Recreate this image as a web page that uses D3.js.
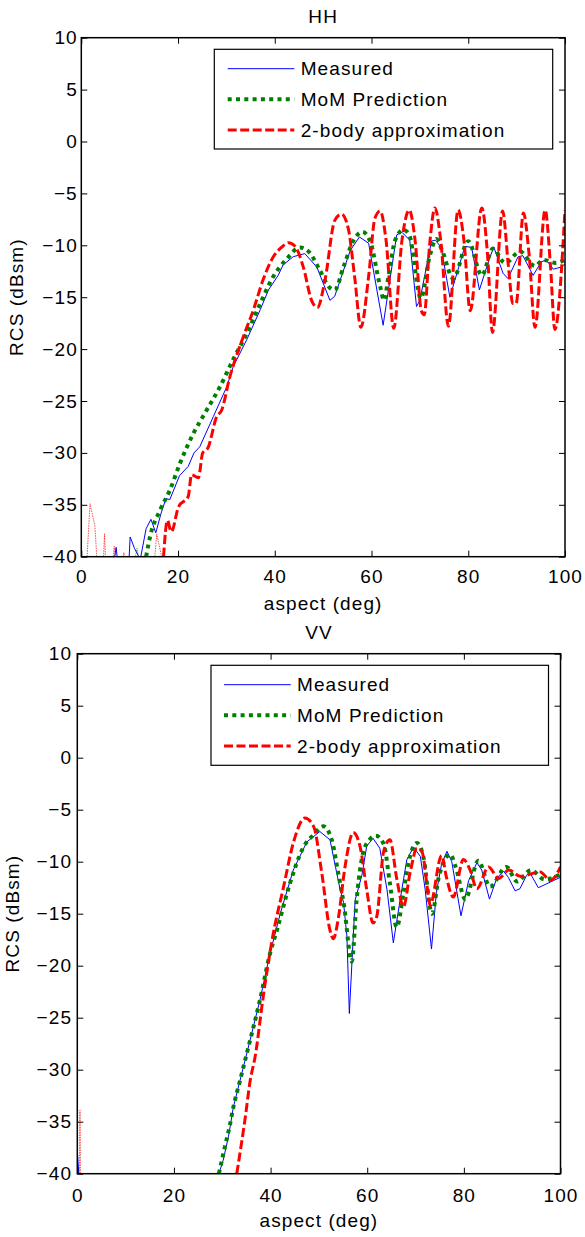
<!DOCTYPE html>
<html><head><meta charset="utf-8">
<script src="https://cdn.jsdelivr.net/npm/d3@7"></script>
<style>
body{margin:0;background:#fff}
svg{display:block}
text{font-family:"Liberation Sans",Arial,Helvetica,sans-serif;font-size:19px;letter-spacing:1.1px;fill:#000}
</style></head><body>
<svg id="c" width="585" height="1237"></svg>
<script>
// ---------------- data ----------------
const xTicks = [0, 20, 40, 60, 80, 100];
const yTicks = [10, 5, 0, -5, -10, -15, -20, -25, -30, -35, -40];
const seriesNames = ["Measured", "MoM Prediction", "2-body approximation"];
const panelTitles = ["HH", "VV"];
const xLabel = "aspect (deg)";
const yLabel = "RCS (dBsm)";

// HH
const hhMeasured = [[12.3,-40],[13.4,-37.3],[14.4,-36.4],[15.4,-37.7],[16.5,-35.8],[17.5,-34.4],[18.3,-34.5],[20.3,-32.2],[22.1,-31.3],[23.3,-30],[24.5,-29.4],[27.3,-26.5],[30.1,-23.6],[31.4,-21.7],[34.2,-19.1],[37,-16.2],[38.7,-14.3],[40.7,-12.9],[41.7,-11.9],[43.8,-11.1],[46.2,-10.8],[48.7,-12.1],[51.4,-15.3],[52.4,-14.9],[55.6,-10.5],[57.5,-9.2],[59.4,-9.8],[62.4,-17.7],[65.2,-9.0],[66.3,-8.75],[67.9,-9.5],[69.3,-15.9],[70,-15.3],[72.4,-9.6],[73.2,-9.5],[74.4,-10.2],[76.2,-15.0],[79.3,-10.1],[80.7,-10.2],[82.3,-14.3],[84.5,-11.1],[85.3,-10.2],[87.2,-12.7],[88.2,-13.2],[90.3,-11.1],[91.3,-11.0],[93.4,-12.9],[95.1,-11.6],[96.1,-11.4],[97.6,-12.3],[99.2,-12.1],[100,-11.8]];
const hhMoM = [[13.4,-40],[14.2,-38.1],[16.3,-35.5],[18.3,-33.6],[20.4,-31.0],[23.2,-28.1],[25.9,-25.9],[28.7,-23.6],[31.4,-21.0],[34.2,-18.5],[37,-15.6],[39.7,-13.0],[42.5,-11.3],[45.2,-10.2],[47.2,-10.7],[49.3,-12.4],[51.4,-14.1],[52.4,-14.3],[54.2,-12.1],[56.2,-9.6],[58.1,-8.7],[59.7,-9.6],[61.8,-14.0],[62.6,-15.3],[63.5,-13],[64.9,-9.5],[66.6,-8.5],[67.8,-9.0],[70.2,-15.1],[72,-11.1],[73.4,-9.4],[74.6,-10.5],[76.9,-13.2],[80,-9.6],[82.8,-12.9],[85.1,-10.3],[87.6,-11.7],[90.7,-10.6],[93.8,-12.0],[95.5,-11.4],[98.1,-11.7],[100,-11.4]];
const hhTwoBody = [[17,-40],[17.8,-36.5],[18.6,-37.6],[20.1,-35.2],[22.1,-34.2],[22.8,-32.1],[24.2,-32.4],[25.1,-30.0],[26.2,-29.5],[28,-26.5],[29,-25.9],[30.7,-22.7],[33.5,-18.8],[35.6,-16.2],[37.6,-13.3],[39.7,-11.1],[41.4,-10.2],[42.8,-9.75],[44.2,-10.1],[45.9,-12.1],[47.6,-15.3],[48.8,-16.0],[50.4,-13.3],[52.4,-7.6],[53.8,-7.0],[55.2,-8.4],[56.5,-13.0],[57.8,-17.9],[59.4,-13.0],[60.7,-7.4],[61.8,-6.7],[63,-9.5],[64.6,-18.0],[66.3,-9.5],[67.8,-6.6],[69,-9.5],[70.3,-16.3],[70.9,-16.7],[72,-10],[73.1,-6.4],[74.3,-9.5],[75.9,-17.8],[77.9,-6.6],[79.1,-9.5],[80.4,-16.3],[82.8,-6.4],[84,-11],[85,-18.4],[87.1,-6.7],[88.3,-12],[89.2,-15.6],[89.9,-15.6],[91.4,-6.9],[92.6,-11],[93.8,-17.9],[95.9,-6.6],[97,-12],[97.9,-18.1],[100,-6.6]];
const hhMeasuredFloor = [[[6.9,-40],[7.2,-39.1],[7.4,-40]],[[9.9,-40],[10.1,-38.1],[11.0,-39.2],[11.9,-40]]];
const hhMoMFloor = [[[11.2,-40],[11.5,-39.2],[11.8,-40]]];
const hhTwoBodyFloor = [[[1.2,-40],[1.8,-34.9],[2.8,-37.0],[3.2,-40]],[[4.6,-40],[4.8,-37.8],[5.0,-40]],[[6.6,-40],[6.8,-39.0],[7.0,-40]],[[8.7,-40],[8.8,-39.6],[8.9,-40]],[[15.2,-40],[15.6,-37.8],[16.6,-40]]];

// VV
const vvMeasured = [[29.3,-40],[30.2,-38.7],[31.3,-36.4],[32.3,-33.6],[33.7,-31.0],[35.1,-28.4],[37.8,-23.3],[39.9,-18.8],[42,-15.0],[44.7,-10.8],[47.5,-8.1],[50.2,-7.1],[52.3,-7.9],[54.4,-12.7],[55.1,-13.9],[55.8,-17.2],[56.3,-24.6],[57.5,-13.7],[58.9,-11.3],[59.9,-8.5],[61.2,-7.75],[62.6,-8.7],[64.1,-12.7],[65.4,-17.8],[66.8,-13.7],[68.2,-9.8],[69.6,-8.6],[71,-9.5],[72,-12.7],[73.3,-18.4],[74.3,-13],[75.4,-10.2],[76.5,-9.0],[77.5,-10],[79.4,-15.2],[81,-11.8],[82.7,-10.1],[83.7,-10.8],[85.3,-13.6],[86.8,-11.6],[88.2,-10.9],[89.2,-11.5],[90.6,-12.8],[91.6,-12.6],[93,-11.3],[93.6,-11.0],[95.4,-12.5],[96.8,-12.2],[98.6,-11.8],[100,-11.5]];
const vvMoM = [[29.3,-40],[30.5,-37.5],[31.5,-35.5],[32.3,-33.6],[33.7,-31.0],[35.1,-28.4],[37.8,-23.3],[39.9,-18.8],[41.3,-16.6],[44,-12.1],[46.8,-8.6],[48.9,-7.4],[50.9,-6.6],[52.6,-7.8],[54,-11.1],[55.2,-14.2],[56.8,-19.6],[57.8,-13.7],[59.6,-8.5],[61.8,-7.5],[63.4,-8.3],[64.7,-12.1],[66.1,-16.3],[67.5,-13],[68.5,-10.2],[70.3,-8.2],[71.6,-9.5],[73.4,-15.0],[74.8,-11.5],[77.2,-9.3],[78.3,-10.5],[80.3,-13.6],[83,-9.9],[85.4,-12.4],[88.8,-10.5],[91,-11.9],[93.9,-10.8],[96.7,-11.7],[100,-11.2]];
const vvTwoBody = [[33,-40],[34.7,-34.8],[35.8,-31.0],[36.8,-28.75],[38.5,-22.9],[40.4,-17.3],[42.7,-12.4],[44.7,-8.2],[47.1,-5.8],[48.9,-6.6],[50.6,-11.1],[52.3,-16.6],[53,-17.4],[54,-15.5],[55.4,-10.5],[57.1,-7.2],[58.5,-8.5],[59.9,-12.7],[61.2,-15.9],[62,-15.2],[63.4,-9.0],[64.7,-7.9],[66.1,-11.6],[67.5,-14.3],[68.9,-11.0],[70.3,-8.7],[71.3,-9.0],[72.7,-13.4],[73,-14.2],[75.4,-9.4],[76.4,-11.5],[77.8,-13.4],[79.9,-9.8],[81.3,-10.8],[82.7,-12.6],[85.1,-10.5],[87.2,-11.6],[89.3,-10.8],[91.7,-11.4],[95.8,-11.0],[97.9,-11.8],[100,-10.5]];
const vvMeasuredFloor = [[[0,-37.7],[0.3,-40]]];
const vvMoMFloor = [];
const vvTwoBodyFloor = [[[0.45,-40],[0.55,-33.9],[0.65,-40]]];

// ---------------- styles ----------------
const styles = [
  {color:"#0000ff", width:1, dash:null, curve:d3.curveLinear},
  {color:"#008000", width:4, dash:"4,4.3", curve:d3.curveMonotoneX},
  {color:"#ff0000", width:3, dash:"9,3.5", curve:d3.curveMonotoneX}
];

const panels = [
  {title:panelTitles[0], left:81.3, right:565, top:37.7, bottom:556.7, yPad:3.5, xPad:13.3,
   series:[hhMeasured,hhMoM,hhTwoBody], floors:[hhMeasuredFloor,hhMoMFloor,hhTwoBodyFloor],
   legend:{x:214.3, y:49.3, w:338.4, h:99.7, lx0:227.7, lx1:294.3, tx:300.7}},
  {title:panelTitles[1], left:77.3, right:560.5, top:653.7, bottom:1173.7, yPad:5.2, xPad:14.6,
   series:[vvMeasured,vvMoM,vvTwoBody], floors:[vvMeasuredFloor,vvMoMFloor,vvTwoBodyFloor],
   legend:{x:211, y:665.3, w:337.5, h:100, lx0:224, lx1:290.7, tx:297}}
];

const svg = d3.select("#c");

panels.forEach((p, pi) => {
  const x = d3.scaleLinear().domain([0,100]).range([p.left, p.right]);
  const y = d3.scaleLinear().domain([-40,10]).range([p.bottom, p.top]);
  const g = svg.append("g");
  const clipId = "clip" + pi;
  g.append("clipPath").attr("id", clipId).append("rect")
    .attr("x", p.left).attr("y", p.top).attr("width", p.right - p.left).attr("height", p.bottom - p.top);

  // floor spikes (thin)
  const plot = g.append("g").attr("clip-path", `url(#${clipId})`);
  p.floors.forEach((segs, si) => {
    const line = d3.line().x(d => x(d[0])).y(d => y(d[1]));
    segs.forEach(seg => {
      plot.append("path").attr("d", line(seg)).attr("fill","none")
        .attr("stroke", styles[si].color).attr("stroke-width", 1)
        .attr("stroke-opacity", si === 0 ? 1 : 0.7)
        .attr("stroke-dasharray", si === 0 ? null : "1.5,1");
    });
  });
  // main series
  p.series.forEach((data, si) => {
    const s = styles[si];
    const line = d3.line().x(d => x(d[0])).y(d => y(d[1])).curve(s.curve);
    plot.append("path").attr("d", line(data)).attr("fill","none")
      .attr("stroke", s.color).attr("stroke-width", s.width)
      .attr("stroke-dasharray", s.dash).attr("stroke-linejoin","round");
  });

  // axes
  const ax = (axis, tx, ty, labels) => {
    const a = g.append("g").attr("transform", `translate(${tx},${ty})`).call(axis);
    a.select(".domain").remove();
    a.selectAll(".tick line").attr("stroke","#000").attr("stroke-width",1);
    a.selectAll("text").attr("font-size", null).attr("font-family", null).style("font-size","19px");
    if (!labels) a.selectAll("text").remove();
    return a;
  };
  ax(d3.axisBottom(x).tickValues(xTicks).tickSizeInner(-6).tickSizeOuter(0).tickPadding(p.xPad), 0, p.bottom, true);
  ax(d3.axisTop(x).tickValues(xTicks).tickSizeInner(-6).tickSizeOuter(0), 0, p.top, false);
  ax(d3.axisLeft(y).tickValues(yTicks).tickSizeInner(-6).tickSizeOuter(0).tickPadding(p.yPad), p.left, 0, true);
  ax(d3.axisRight(y).tickValues(yTicks).tickSizeInner(-6).tickSizeOuter(0), p.right, 0, false);

  g.append("rect").attr("x", p.left).attr("y", p.top)
    .attr("width", p.right - p.left).attr("height", p.bottom - p.top)
    .attr("fill","none").attr("stroke","#000").attr("stroke-width",1.5);

  // title & labels
  const cx = (p.left + p.right) / 2;
  g.append("text").attr("x", cx).attr("y", p.top - 15).attr("text-anchor","middle").text(p.title);
  g.append("text").attr("x", cx).attr("y", p.bottom + 53.5).attr("text-anchor","middle").text(xLabel);
  g.append("text").attr("transform", `translate(${p.left - 58},${(p.top + p.bottom) / 2}) rotate(-90)`)
    .attr("text-anchor","middle").text(yLabel);

  // legend
  const L = p.legend;
  g.append("rect").attr("x", L.x).attr("y", L.y).attr("width", L.w).attr("height", L.h)
    .attr("fill","#fff").attr("stroke","#000").attr("stroke-width",1.2);
  const rowY = [19.4, 50, 80.7];
  seriesNames.forEach((name, si) => {
    const s = styles[si];
    const yy = L.y + rowY[si];
    g.append("line").attr("x1", L.lx0).attr("x2", L.lx1).attr("y1", yy).attr("y2", yy)
      .attr("stroke", s.color).attr("stroke-width", s.width).attr("stroke-dasharray", s.dash);
    g.append("text").attr("x", L.tx).attr("y", yy).attr("dy","0.35em").text(name);
  });
});
</script>
</body></html>
